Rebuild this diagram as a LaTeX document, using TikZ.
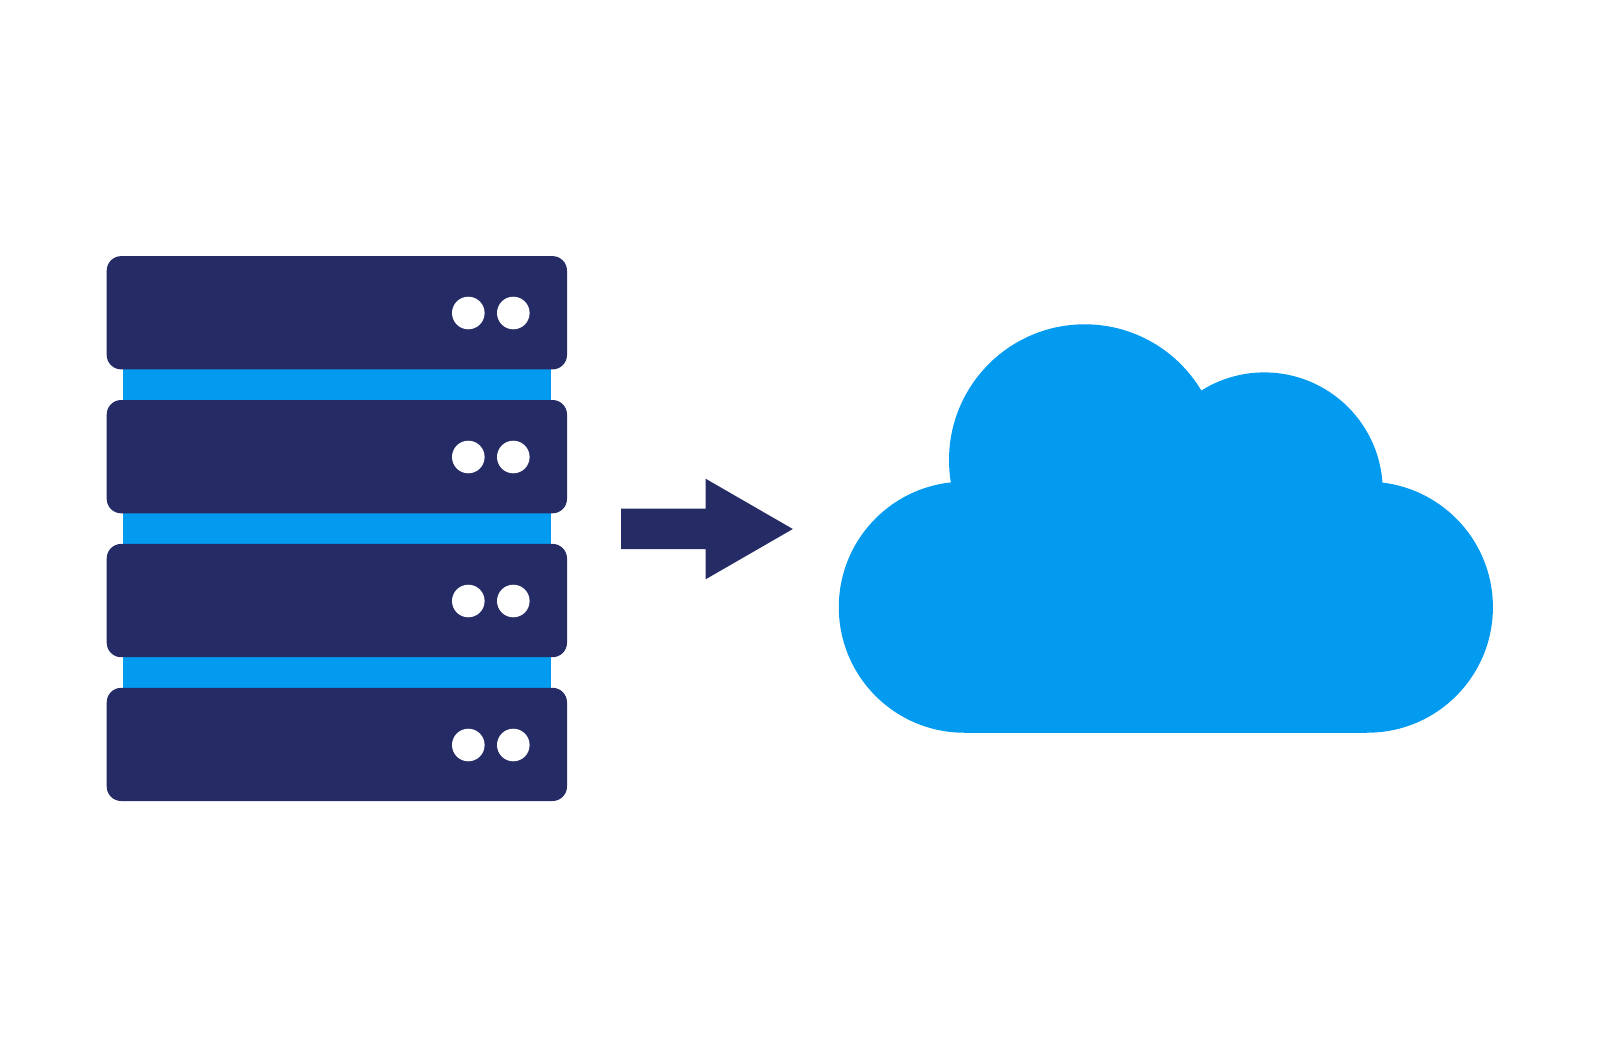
\documentclass[tikz,border=0pt]{standalone}
\usepackage{tikz}
\usetikzlibrary{positioning, calc}
\definecolor{navyunit}{RGB}{37,43,101}
\definecolor{cloudblue}{RGB}{3,155,239}
\tikzset{
  serverunit/.style={fill=navyunit, rounded corners=1.45mm},
  serverlight/.style={fill=white},
  cloudpart/.style={fill=cloudblue}
}
\begin{document}
\begin{tikzpicture}[x=0.01cm,y=-0.01cm]

\newcommand{\unitleft}{106.7}
\newcommand{\unitright}{567}
\newcommand{\lightr}{16.3}
\newcommand{\lightone}{468.3}
\newcommand{\lighttwo}{513.3}
\newcommand{\lobe}{125.5}

\useasboundingbox (0,0) rectangle (1600,1060);

% rack behind the units
\fill[cloudblue] (123,369) rectangle (551.3,688);

\fill[serverunit] (\unitleft,256.1) rectangle (\unitright,369.4);
\fill[serverunit] (\unitleft,400) rectangle (\unitright,513.3);
\fill[serverunit] (\unitleft,543.9) rectangle (\unitright,657.2);
\fill[serverunit] (\unitleft,687.8) rectangle (\unitright,801);

\fill[serverlight] (\lightone,313) circle (\lightr);
\fill[serverlight] (\lighttwo,313) circle (\lightr);
\fill[serverlight] (\lightone,457) circle (\lightr);
\fill[serverlight] (\lighttwo,457) circle (\lightr);
\fill[serverlight] (\lightone,601) circle (\lightr);
\fill[serverlight] (\lighttwo,601) circle (\lightr);
\fill[serverlight] (\lightone,745) circle (\lightr);
\fill[serverlight] (\lighttwo,745) circle (\lightr);

% block arrow
\fill[navyunit] (621,508.7)--(705.6,508.7)--(705.6,478.7)--(792.8,529)--(705.6,579.3)--(705.6,549)--(621,549)--cycle;

% cloud
\fill[cloudpart] (964.3,607.2) circle (\lobe);
\fill[cloudpart] (1367.4,607.2) circle (\lobe);
\fill[cloudpart] (1084.7,460) circle (135.7);
\fill[cloudpart] (1264.3,490.8) circle (118.4);
\fill[cloudpart] (964.3,495) rectangle (1367.4,732.7);

\end{tikzpicture}
\end{document}
